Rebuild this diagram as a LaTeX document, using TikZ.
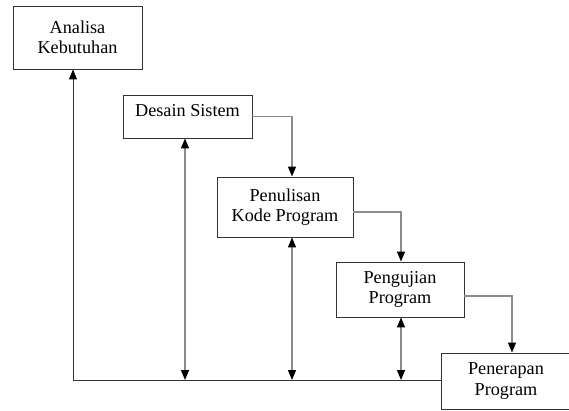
\documentclass[tikz,border=0pt]{standalone}
\usepackage{fontspec}
\setmainfont{Liberation Serif}
\usetikzlibrary{arrows.meta}
\begin{document}
\begin{tikzpicture}[x=1pt,y=-1pt,
  stagebox/.style={draw=black!80,line width=0.9pt,fill=white,align=center,
    font=\fontsize{18.2}{20.5}\selectfont,inner sep=0pt},
  tip/.tip={Triangle[width=8pt,length=10pt,color=black]},
  flow/.style={draw=black!45,line width=1.3pt,-tip},
  link/.style={draw=black!45,line width=1.3pt,tip-tip},
  loop/.style={draw=black!80,line width=1pt,-tip}]
\useasboundingbox (0,0) rectangle (569,411);

% stages of the process
\node[stagebox,minimum width=129pt,minimum height=63pt] (ana) at (77.5,37.5) {Analisa\\Kebutuhan};
\node[stagebox,minimum width=129pt,minimum height=43pt,text depth=12pt] (des) at (187.5,116.5) {Desain Sistem};
\node[stagebox,minimum width=136pt,minimum height=60pt] (pen) at (285,207) {Penulisan\\Kode Program};
\node[stagebox,minimum width=128pt,minimum height=55pt] (uji) at (400,289.5) {Pengujian\\Program};
\node[stagebox,minimum width=130pt,minimum height=56pt] (ter) at (506,381) {Penerapan\\Program};

% feedback line along the bottom
\coordinate (base) at (0,380);

% forward flow between stages
\draw[flow] (des.east) -| ([xshift=7pt]pen.north);
\draw[flow] ([yshift=-5pt]pen.east) -| ([xshift=1pt]uji.north);
\draw[flow] ([yshift=-6.5pt]uji.east) -| ([xshift=6pt]ter.north);

% return path to the first stage
\draw[loop] (ter.west |- base) -| ([xshift=-4.5pt]ana.south);

% links from each stage to the return path
\draw[link] ([xshift=-2.5pt]des.south) -- ([xshift=-2.5pt]des.south |- base);
\draw[link] ([xshift=7pt]pen.south) -- ([xshift=7pt]pen.south |- base);
\draw[link] ([xshift=1pt]uji.south) -- ([xshift=1pt]uji.south |- base);
\end{tikzpicture}
\end{document}
